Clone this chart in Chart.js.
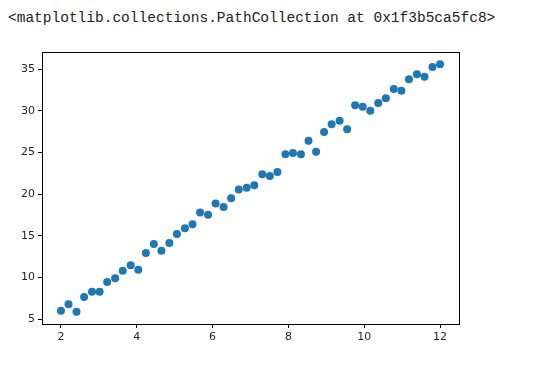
<!DOCTYPE html>
<html>
<head>
<meta charset="utf-8">
<script src="https://cdn.jsdelivr.net/npm/chart.js@4"></script>
<style>
  body { margin: 0; background: #fff; width: 538px; height: 365px; overflow: hidden; position: relative; }
  #out { position: absolute; left: 8px; top: 10px; font-family: "Liberation Mono", "DejaVu Sans Mono", monospace; font-size: 14.5px; color: #222; white-space: pre; }
  #wrap { position: absolute; left: 0; top: 0; width: 538px; height: 365px; }
</style>
</head>
<body>
<div id="out">&lt;matplotlib.collections.PathCollection at 0x1f3b5ca5fc8&gt;</div>
<div id="wrap"><canvas id="myChart" width="538" height="365"></canvas></div>
<script>
let xValues = [2.00, 2.20, 2.41, 2.61, 2.82, 3.02, 3.22, 3.43, 3.63, 3.84,
               4.04, 4.24, 4.45, 4.65, 4.86, 5.06, 5.27, 5.47, 5.67, 5.88,
               6.08, 6.29, 6.49, 6.69, 6.90, 7.10, 7.31, 7.51, 7.71, 7.92,
               8.12, 8.33, 8.53, 8.73, 8.94, 9.14, 9.35, 9.55, 9.76, 9.96,
               10.16, 10.37, 10.57, 10.78, 10.98, 11.18, 11.39, 11.59, 11.80, 12.00]
let yValues = [6.04, 6.80, 5.92, 7.68, 8.32, 8.32, 9.47, 9.91, 10.83, 11.47,
               10.95, 12.95, 14.03, 13.23, 14.15, 15.23, 15.91, 16.39, 17.82, 17.55,
               18.90, 18.46, 19.52, 20.56, 20.76, 21.07, 22.39, 22.18, 22.66, 24.78,
               24.94, 24.78, 26.42, 25.10, 27.46, 28.38, 28.81, 27.78, 30.66, 30.49,
               30.01, 30.94, 31.50, 32.61, 32.41, 33.78, 34.38, 34.09, 35.25, 35.57]
let xTicks = [2, 4, 6, 8, 10, 12]
let yTicks = [5, 10, 15, 20, 25, 30, 35]

const points = xValues.map((x, i) => ({ x: x, y: yValues[i] }))

// box around the plot area, like matplotlib spines
const frame = {
    id: 'frame',
    afterDraw(chart) {
        const a = chart.chartArea
        const c = chart.ctx
        c.save()
        c.strokeStyle = '#000'
        c.lineWidth = 1
        c.strokeRect(Math.round(a.left) + 0.5, Math.round(a.top) + 0.5,
                     Math.round(a.right - a.left), Math.round(a.bottom - a.top))
        c.restore()
    }
}

const tickFont = { family: 'DejaVu Sans', size: 11 }

new Chart(document.getElementById('myChart'), {
    type: 'scatter',
    data: {
        datasets: [{
            data: points,
            backgroundColor: '#1f77b4',
            borderColor: '#1f77b4',
            borderWidth: 0,
            pointRadius: 4,
            pointHoverRadius: 4
        }]
    },
    options: {
        responsive: false,
        animation: false,
        layout: { padding: { left: 0, top: 52, right: 79, bottom: 0 } },
        plugins: { legend: { display: false }, tooltip: { enabled: false } },
        scales: {
            x: {
                type: 'linear',
                min: 1.5,
                max: 12.5,
                afterBuildTicks: s => { s.ticks = xTicks.map(v => ({ value: v })) },
                afterFit: s => { s.height = 41 },
                border: { display: false },
                grid: { drawOnChartArea: false, tickLength: 4, color: '#000', tickWidth: 1 },
                ticks: { color: '#262626', font: tickFont, padding: 3, maxRotation: 0 }
            },
            y: {
                type: 'linear',
                min: 4.44,
                max: 37.05,
                afterBuildTicks: s => { s.ticks = yTicks.map(v => ({ value: v })) },
                afterFit: s => { s.width = 42 },
                border: { display: false },
                grid: { drawOnChartArea: false, tickLength: 4, color: '#000', tickWidth: 1 },
                ticks: { color: '#262626', font: tickFont, padding: 3 }
            }
        }
    },
    plugins: [frame]
})
</script>
</body>
</html>
